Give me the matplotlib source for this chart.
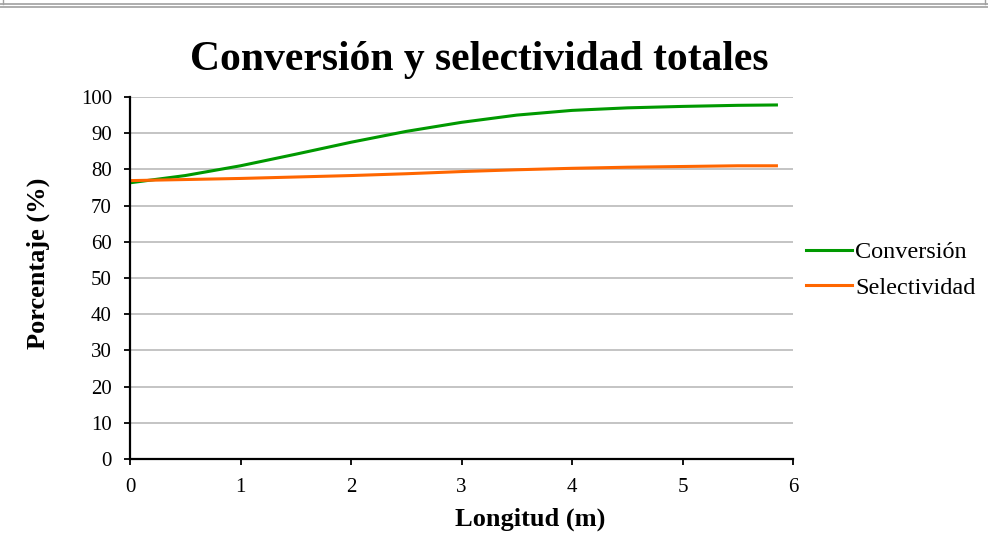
import matplotlib
matplotlib.use('Agg')
import matplotlib.pyplot as plt
from matplotlib.lines import Line2D

plt.rcParams['font.family'] = ['Liberation Serif', 'DejaVu Serif']

# longitud del reactor (m)
longitud = [0, 0.5, 1, 1.5, 2, 2.5, 3, 3.5, 4, 4.5, 5, 5.5, 5.85]
conversion = [76.3, 78.3, 81.0, 84.2, 87.5, 90.5, 93.0, 95.0, 96.3, 97.0, 97.4, 97.7, 97.8]
selectividad = [76.9, 77.2, 77.5, 77.9, 78.3, 78.8, 79.4, 79.9, 80.3, 80.6, 80.8, 81.0, 81.0]

W, H = 988, 533
fig = plt.figure(figsize=(W / 100, H / 100), dpi=100)
ax = fig.add_axes([130 / W, 1 - 459 / H, 663 / W, 362 / H])

ax.plot(longitud, conversion, color='#009900', lw=2.2, label='Conversión')
ax.plot(longitud, selectividad, color='#ff6600', lw=2.2, label='Selectividad')

ax.set_xlim(0, 6)
ax.set_ylim(0, 100)
ax.set_xticks(range(0, 7))
ax.set_yticks(range(0, 101, 10))
ax.yaxis.grid(True, color='#bfbfbf', lw=1.3)
ax.set_axisbelow(True)
for s in ['top', 'right']:
    ax.spines[s].set_visible(False)
for s in ['left', 'bottom']:
    ax.spines[s].set_linewidth(1.6)
ax.tick_params(direction='out', length=4, width=1.3, labelsize=15)
ax.tick_params(axis='x', pad=10)
ax.tick_params(axis='y', pad=9)

# titulos y ejes
fig.text(479 / W, 1 - 70 / H, 'Conversión y selectividad totales', fontsize=30,
         fontweight='bold', ha='center', va='baseline')
fig.text(530 / W, 1 - 526 / H, 'Longitud (m)', fontsize=19, fontweight='bold',
         ha='center', va='baseline')
fig.text(38 / W, 1 - 263 / H, 'Porcentaje (%)', fontsize=19, fontweight='bold',
         ha='center', va='center', rotation=90)

ax.legend(loc='center left', bbox_to_anchor=(806 / W, 1 - 270 / H),
          bbox_transform=fig.transFigure, frameon=False, borderpad=0,
          borderaxespad=0, fontsize=17.5, handlelength=1.9, handletextpad=0.12,
          labelspacing=0.55)

# marco superior de la captura
fig.add_artist(Line2D([0, 1], [1 - 3.5 / H] * 2, color='#a0a0a0', lw=1.2))
fig.add_artist(Line2D([0, 1], [1 - 6.5 / H] * 2, color='#a0a0a0', lw=1.2))
fig.add_artist(Line2D([3 / W] * 2, [1, 1 - 3.5 / H], color='#a0a0a0', lw=1))
fig.add_artist(Line2D([985 / W] * 2, [1, 1 - 3.5 / H], color='#a0a0a0', lw=1))

fig.savefig('out.png', dpi=100)
